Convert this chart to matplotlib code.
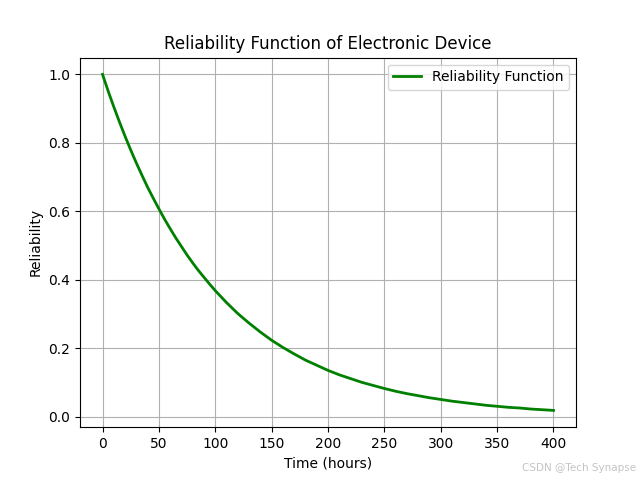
import matplotlib
matplotlib.use("Agg")
import matplotlib.pyplot as plt

# time in hours and reliability
hours = [0, 5, 10, 15, 20, 25, 30, 35, 40, 45, 50, 55, 60, 65, 70, 75, 80, 85, 90, 95,
         100, 110, 120, 130, 140, 150, 160, 170, 180, 190, 200, 210, 220, 230, 240,
         250, 260, 270, 280, 290, 300, 310, 320, 330, 340, 350, 360, 370, 380, 390, 400]
reliability = [1.000, 0.951, 0.905, 0.861, 0.819, 0.779, 0.741, 0.705, 0.670, 0.638,
               0.607, 0.577, 0.549, 0.522, 0.497, 0.472, 0.449, 0.427, 0.407, 0.387,
               0.368, 0.333, 0.301, 0.273, 0.247, 0.223, 0.202, 0.183, 0.165, 0.150,
               0.135, 0.122, 0.111, 0.100, 0.091, 0.082, 0.074, 0.067, 0.061, 0.055,
               0.050, 0.045, 0.041, 0.037, 0.033, 0.030, 0.027, 0.025, 0.022, 0.020,
               0.018]

fig, ax = plt.subplots(figsize=(6.4, 4.8), dpi=100)
ax.plot(hours, reliability, color='green', linewidth=2, label='Reliability Function')
ax.set_title('Reliability Function of Electronic Device')
ax.set_xlabel('Time (hours)')
ax.set_ylabel('Reliability')
ax.grid(True)
ax.legend(loc='upper right')

fig.text(0.994, 0.025, 'CSDN @Tech Synapse', ha='right', va='center',
         fontsize=7.5, color='#c4c4c4')

plt.savefig('out.png', dpi=100)
